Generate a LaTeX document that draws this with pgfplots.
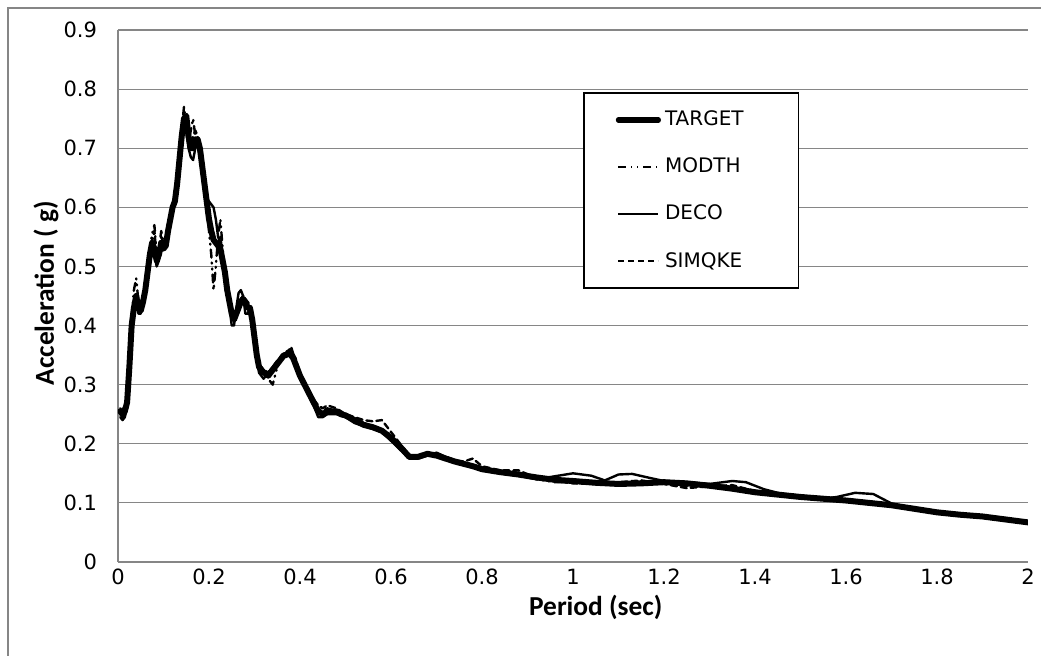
\documentclass[border=0pt]{standalone}
\usepackage{fontspec}
\setmainfont{DejaVu Sans}
\newfontfamily\calibri{Carlito}
\usepackage{pgfplots}
\usepackage{pgfplotstable}
\pgfplotsset{compat=1.18}
\definecolor{gridgray}{HTML}{868686}

\pgfplotstableread{
x y
0.005 0.255
0.01 0.25
0.015 0.255
0.02 0.27
0.025 0.33
0.03 0.40
0.035 0.43
0.04 0.45
0.045 0.43
0.05 0.425
0.055 0.44
0.06 0.46
0.065 0.49
0.07 0.52
0.075 0.54
0.08 0.53
0.085 0.51
0.09 0.52
0.095 0.54
0.10 0.53
0.105 0.535
0.11 0.56
0.115 0.58
0.12 0.60
0.125 0.61
0.13 0.64
0.135 0.68
0.14 0.72
0.145 0.75
0.15 0.755
0.155 0.72
0.16 0.70
0.165 0.70
0.17 0.715
0.175 0.715
0.18 0.70
0.185 0.67
0.19 0.64
0.195 0.61
0.20 0.58
0.205 0.56
0.21 0.545
0.215 0.54
0.22 0.535
0.225 0.53
0.23 0.51
0.235 0.49
0.24 0.46
0.245 0.44
0.25 0.42
0.255 0.41
0.26 0.42
0.265 0.43
0.27 0.44
0.275 0.445
0.28 0.44
0.285 0.43
0.29 0.43
0.295 0.41
0.30 0.38
0.305 0.35
0.31 0.33
0.315 0.325
0.32 0.32
0.325 0.32
0.33 0.315
0.335 0.32
0.34 0.325
0.345 0.33
0.35 0.335
0.355 0.34
0.36 0.345
0.365 0.35
0.37 0.35
0.375 0.355
0.38 0.35
0.385 0.345
0.39 0.335
0.395 0.325
0.40 0.315
0.41 0.30
0.42 0.285
0.43 0.27
0.44 0.255
0.45 0.25
0.46 0.255
0.47 0.255
0.48 0.255
0.49 0.25
0.50 0.248
0.52 0.24
0.54 0.232
0.56 0.228
0.58 0.222
0.60 0.21
0.62 0.195
0.64 0.178
0.66 0.178
0.68 0.183
0.70 0.18
0.72 0.175
0.74 0.17
0.76 0.166
0.78 0.162
0.80 0.157
0.84 0.152
0.88 0.148
0.92 0.143
0.96 0.139
1.00 0.137
1.05 0.134
1.10 0.132
1.15 0.133
1.20 0.135
1.25 0.133
1.30 0.129
1.35 0.124
1.40 0.118
1.45 0.114
1.50 0.11
1.55 0.107
1.60 0.104
1.65 0.1
1.70 0.096
1.75 0.09
1.80 0.084
1.85 0.08
1.90 0.077
1.95 0.072
2.00 0.067
}\target

\pgfplotstableread{
x y
0.005 0.26
0.01 0.255
0.02 0.28
0.025 0.34
0.03 0.41
0.035 0.46
0.04 0.48
0.045 0.44
0.05 0.43
0.055 0.45
0.06 0.47
0.065 0.50
0.07 0.53
0.075 0.555
0.08 0.57
0.085 0.52
0.09 0.53
0.095 0.56
0.10 0.54
0.105 0.54
0.11 0.565
0.115 0.585
0.12 0.605
0.125 0.61
0.13 0.65
0.135 0.69
0.14 0.73
0.145 0.77
0.15 0.74
0.155 0.71
0.16 0.73
0.165 0.75
0.17 0.72
0.175 0.70
0.18 0.69
0.185 0.66
0.19 0.63
0.195 0.60
0.20 0.56
0.205 0.52
0.21 0.46
0.215 0.50
0.22 0.55
0.225 0.58
0.23 0.53
0.235 0.49
0.24 0.46
0.245 0.44
0.25 0.42
0.255 0.415
0.26 0.425
0.265 0.435
0.27 0.445
0.275 0.45
0.28 0.44
0.285 0.435
0.29 0.43
0.295 0.40
0.30 0.37
0.305 0.345
0.31 0.33
0.32 0.32
0.33 0.31
0.34 0.30
0.35 0.33
0.36 0.345
0.37 0.35
0.38 0.365
0.39 0.34
0.40 0.31
0.41 0.30
0.42 0.29
0.43 0.27
0.44 0.26
0.45 0.255
0.46 0.26
0.48 0.255
0.50 0.25
0.52 0.24
0.54 0.235
0.56 0.23
0.58 0.225
0.60 0.215
0.62 0.19
0.64 0.18
0.66 0.18
0.68 0.183
0.70 0.18
0.72 0.176
0.74 0.17
0.76 0.165
0.78 0.16
0.80 0.158
0.84 0.15
0.88 0.15
0.92 0.14
0.96 0.135
1.00 0.135
1.05 0.133
1.10 0.134
1.15 0.135
1.20 0.136
1.25 0.128
1.30 0.13
1.35 0.126
1.40 0.12
1.45 0.115
1.50 0.11
1.55 0.108
1.60 0.105
1.65 0.1
1.70 0.096
1.75 0.09
1.80 0.085
1.85 0.081
1.90 0.077
1.95 0.073
2.00 0.068
}\modth

\pgfplotstableread{
x y
0.005 0.245
0.01 0.24
0.015 0.245
0.02 0.26
0.025 0.32
0.03 0.39
0.035 0.43
0.04 0.44
0.045 0.42
0.05 0.42
0.055 0.45
0.06 0.46
0.065 0.48
0.07 0.51
0.075 0.53
0.08 0.52
0.085 0.50
0.09 0.51
0.095 0.53
0.10 0.535
0.105 0.54
0.11 0.57
0.115 0.59
0.12 0.60
0.125 0.62
0.13 0.65
0.135 0.69
0.14 0.72
0.145 0.74
0.15 0.73
0.155 0.70
0.16 0.685
0.165 0.68
0.17 0.70
0.175 0.71
0.18 0.69
0.185 0.66
0.19 0.63
0.195 0.615
0.20 0.61
0.205 0.605
0.21 0.60
0.215 0.58
0.22 0.55
0.225 0.54
0.23 0.52
0.235 0.50
0.24 0.47
0.245 0.43
0.25 0.40
0.255 0.40
0.26 0.43
0.265 0.455
0.27 0.46
0.275 0.45
0.28 0.42
0.285 0.42
0.29 0.43
0.295 0.40
0.30 0.37
0.305 0.34
0.31 0.32
0.32 0.31
0.33 0.32
0.34 0.33
0.35 0.34
0.36 0.345
0.37 0.35
0.38 0.355
0.39 0.34
0.40 0.32
0.41 0.30
0.42 0.28
0.43 0.265
0.44 0.245
0.45 0.245
0.46 0.25
0.48 0.25
0.50 0.245
0.52 0.235
0.54 0.23
0.56 0.225
0.58 0.22
0.60 0.205
0.62 0.19
0.64 0.175
0.66 0.175
0.68 0.18
0.70 0.185
0.72 0.178
0.74 0.172
0.76 0.168
0.78 0.16
0.80 0.155
0.84 0.15
0.88 0.146
0.92 0.14
0.96 0.145
1.00 0.15
1.04 0.146
1.07 0.138
1.10 0.148
1.13 0.149
1.17 0.142
1.20 0.137
1.25 0.135
1.30 0.132
1.35 0.137
1.38 0.135
1.42 0.123
1.46 0.115
1.50 0.11
1.55 0.107
1.58 0.11
1.62 0.117
1.66 0.115
1.70 0.099
1.75 0.09
1.80 0.083
1.85 0.08
1.90 0.076
1.95 0.072
2.00 0.066
}\deco

\pgfplotstableread{
x y
0.005 0.25
0.01 0.245
0.02 0.265
0.025 0.33
0.03 0.40
0.035 0.44
0.04 0.455
0.045 0.435
0.05 0.43
0.055 0.445
0.06 0.465
0.065 0.49
0.07 0.52
0.075 0.545
0.08 0.56
0.085 0.515
0.09 0.525
0.095 0.55
0.10 0.54
0.105 0.54
0.11 0.56
0.115 0.58
0.12 0.60
0.125 0.615
0.13 0.645
0.135 0.685
0.14 0.72
0.145 0.75
0.15 0.745
0.155 0.72
0.16 0.71
0.165 0.72
0.17 0.73
0.175 0.72
0.18 0.70
0.185 0.67
0.19 0.64
0.195 0.61
0.20 0.58
0.205 0.56
0.21 0.55
0.215 0.54
0.22 0.54
0.225 0.55
0.23 0.52
0.235 0.50
0.24 0.47
0.245 0.445
0.25 0.42
0.255 0.41
0.26 0.42
0.265 0.43
0.27 0.445
0.275 0.45
0.28 0.44
0.285 0.44
0.29 0.435
0.295 0.41
0.30 0.38
0.305 0.35
0.31 0.335
0.32 0.325
0.33 0.32
0.34 0.33
0.35 0.34
0.36 0.35
0.37 0.355
0.38 0.36
0.39 0.345
0.40 0.32
0.41 0.305
0.42 0.29
0.43 0.275
0.44 0.265
0.45 0.26
0.46 0.265
0.48 0.26
0.50 0.25
0.52 0.245
0.54 0.24
0.56 0.238
0.58 0.24
0.60 0.22
0.62 0.2
0.64 0.18
0.66 0.18
0.68 0.185
0.70 0.182
0.72 0.178
0.74 0.172
0.76 0.17
0.78 0.175
0.80 0.162
0.84 0.155
0.88 0.155
0.92 0.142
0.96 0.137
1.00 0.133
1.05 0.132
1.10 0.135
1.15 0.138
1.20 0.132
1.25 0.125
1.30 0.128
1.35 0.13
1.40 0.12
1.45 0.116
1.50 0.112
1.55 0.108
1.60 0.106
1.65 0.102
1.70 0.097
1.75 0.091
1.80 0.086
1.85 0.081
1.90 0.077
1.95 0.073
2.00 0.068
}\simqke

\begin{document}
\begin{tikzpicture}
\useasboundingbox (-59pt,-47pt) rectangle (461.5pt,281pt);
\draw[gridgray, line width=0.6pt] (-55pt,-47pt) -- (-55pt,277pt) -- (461.5pt,277pt);
\begin{axis}[
  at={(0pt,0pt)}, anchor=south west,
  scale only axis,
  width=455pt, height=266pt,
  xmin=0, xmax=2, ymin=0, ymax=0.9,
  xtick={0,0.2,...,2.0},
  ytick={0,0.1,...,0.9},
  xticklabels={0,0.2,0.4,0.6,0.8,1,1.2,1.4,1.6,1.8,2},
  yticklabels={0,0.1,0.2,0.3,0.4,0.5,0.6,0.7,0.8,0.9},
  major tick length=0pt,
  axis x line*=bottom, axis y line*=left,
  axis line style={draw=gridgray, line width=0.6pt, -},
  ymajorgrids,
  grid style={draw=gridgray, line width=0.6pt},
  tick label style={font=\fontsize{10.5}{12}\selectfont},
  yticklabel style={xshift=-7pt},
  xticklabel style={yshift=0pt},
  xlabel={Period (sec)},
  ylabel={Acceleration ( g)},
  label style={font=\calibri\bfseries\fontsize{13.7}{16}\selectfont},
  xlabel style={at={(axis description cs:0.525,-0.0846)}, anchor=center},
  ylabel style={at={(axis description cs:-0.079,0.505)}, anchor=center},
  every axis plot/.append style={line join=round, line cap=round},
]
\addplot[black, line width=1.2pt, dash pattern=on 4pt off 2.5pt on 0.5pt off 2.5pt on 0.5pt off 2.5pt] table[x=x,y=y] {\modth};
\addplot[black, line width=1.2pt] table[x=x,y=y] {\deco};
\addplot[black, line width=1.2pt, dash pattern=on 3pt off 2pt] table[x=x,y=y] {\simqke};
\addplot[black, line width=3pt] table[x=x,y=y] {\target};
\end{axis}
\begin{axis}[
  at={(0pt,0pt)}, anchor=south west,
  scale only axis,
  width=455pt, height=266pt,
  xmin=0, xmax=2, ymin=0, ymax=0.9,
  hide axis,
  legend style={at={(rel axis cs:0.511,0.883)}, anchor=north west,
    draw=black, line width=0.8pt, fill=white,
    inner xsep=16pt, inner ysep=7pt, row sep=10.6pt,
    font=\fontsize{10}{12}\selectfont},
  legend cell align=left,
  legend image code/.code={\draw[#1] (0pt,0pt) -- (20pt,0pt);},
]
\addlegendimage{black, line width=2.6pt, line cap=round}
\addlegendentry{TARGET}
\addlegendimage{black, line width=1.2pt, dash pattern=on 4pt off 2.5pt on 0.5pt off 2.5pt on 0.5pt off 2.5pt}
\addlegendentry{MODTH}
\addlegendimage{black, line width=1.2pt}
\addlegendentry{DECO}
\addlegendimage{black, line width=1.2pt, dash pattern=on 3pt off 2pt}
\addlegendentry{SIMQKE\hspace*{10pt}}
\end{axis}
\end{tikzpicture}
\end{document}
